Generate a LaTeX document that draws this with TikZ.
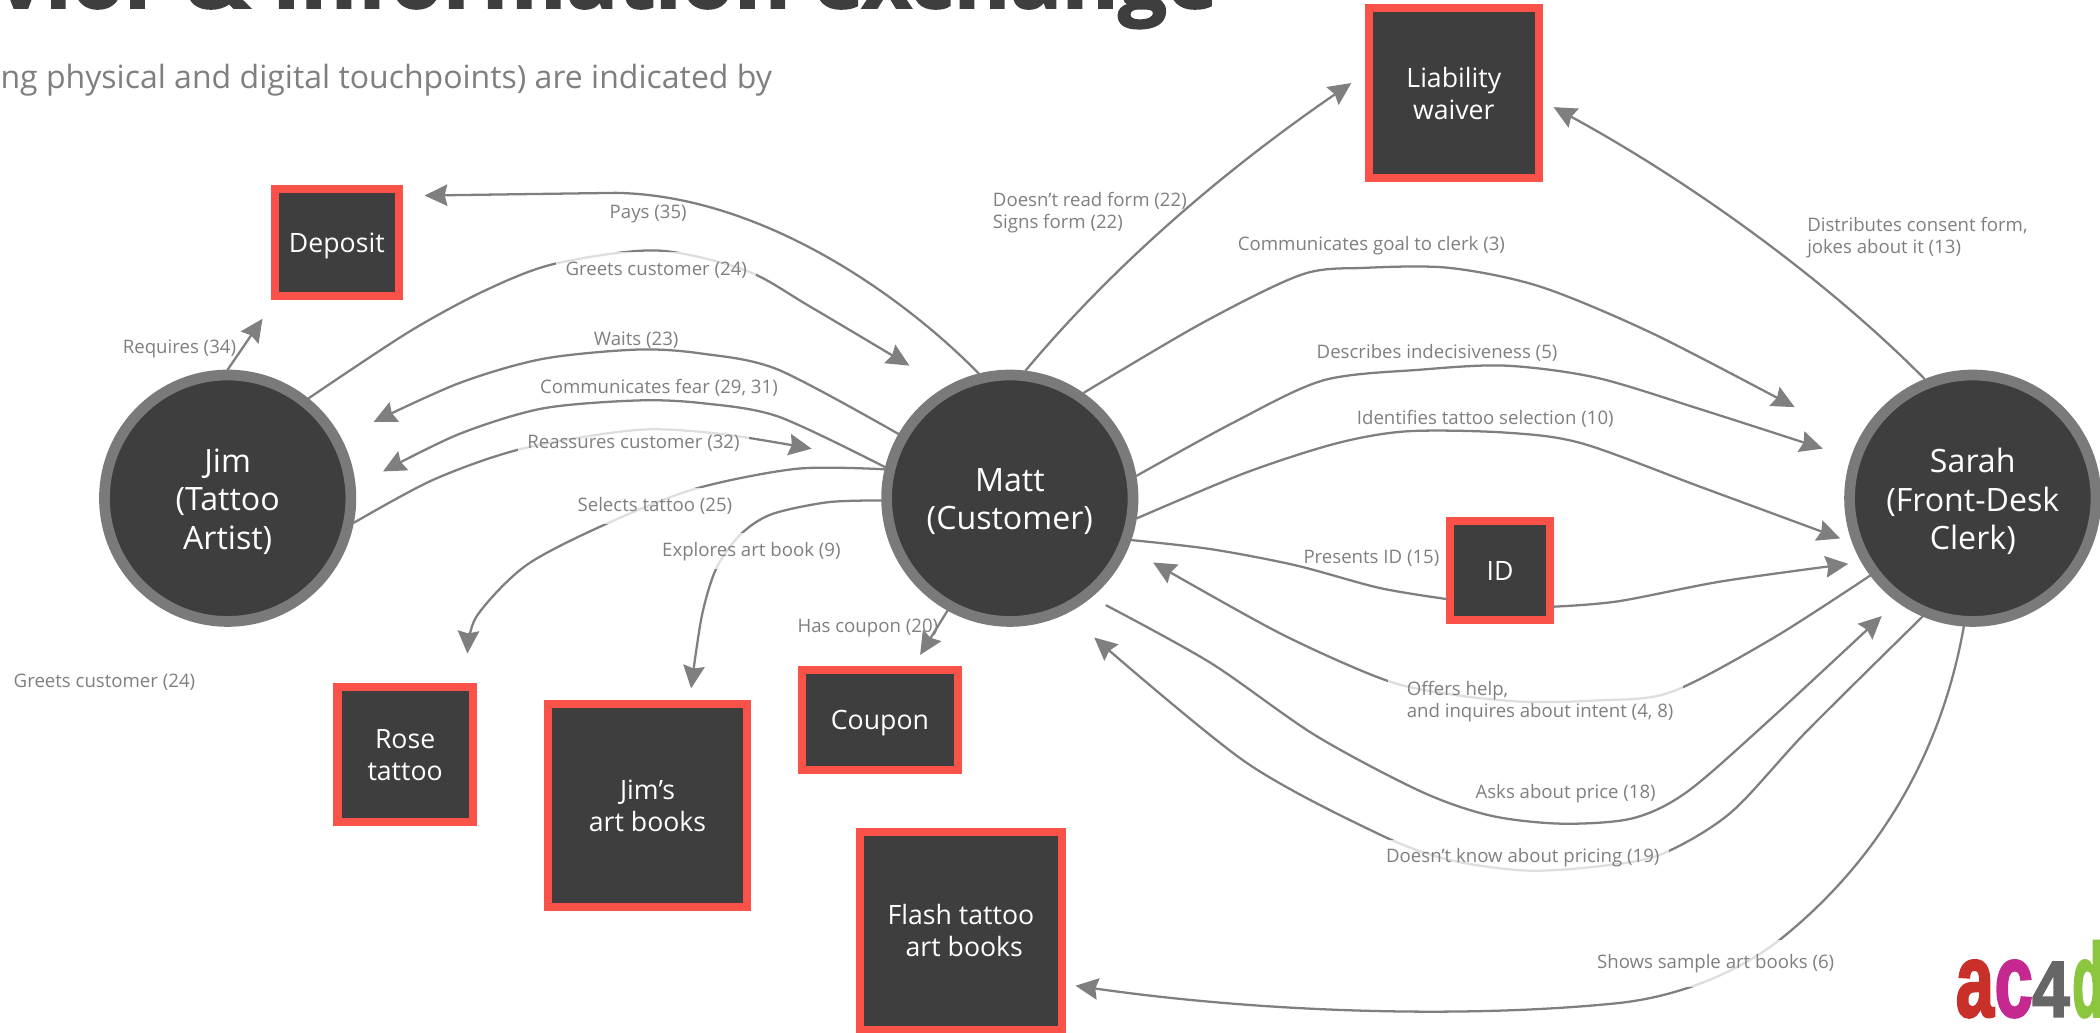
\documentclass[tikz,border=0pt]{standalone}
\usepackage{fontspec}
\setmainfont{Open Sans}
\newfontfamily\titlefont[BoldFeatures={FakeBold=2.2}]{Open Sans}
\newfontfamily\logofont[BoldFeatures={FakeBold=2.5}]{Liberation Sans}
\usetikzlibrary{arrows.meta}
\definecolor{darkbox}{HTML}{3E3E3E}
\definecolor{rim}{HTML}{7A7A7A}
\definecolor{redrim}{HTML}{FA5249}
\definecolor{conncol}{HTML}{7F7F7F}
\definecolor{labcol}{HTML}{7F7F7F}
\definecolor{logored}{HTML}{C9302A}
\definecolor{logomag}{HTML}{C5298F}
\definecolor{logogrey}{HTML}{666666}
\definecolor{logogreen}{HTML}{8CC63F}
\tikzset{
  actor/.style={circle,draw=rim,fill=darkbox,line width=4pt,minimum size=92pt,inner sep=0pt},
  actorlabel/.style={text=white,align=center,font=\fontsize{12}{14.4}\selectfont,inner sep=0pt,yshift=-1.3pt},
  thing/.style={rectangle,draw=redrim,fill=darkbox,line width=3pt,inner sep=0pt,text=white,align=center,font=\fontsize{9.95}{12}\selectfont},
  conn/.style={draw=conncol,line width=0.85pt,line cap=round,line join=round},
  arrowed/.style={conn,-{Stealth[length=8.5pt,width=8pt,inset=1pt]}},
  lab/.style={text=labcol,font=\fontsize{6.95}{8.3}\selectfont,inner sep=0pt,yshift=-0.8pt},
  labfill/.style={lab,fill=white,fill opacity=0.75,text opacity=1,inner xsep=3.5pt,minimum height=13.5pt},
  logoletter/.style={anchor=base west,inner sep=0pt,font=\logofont\bfseries\fontsize{39}{39}\selectfont,transform shape},
  smoothed/.style={smooth,tension=0.5}
}
\begin{document}
\begin{tikzpicture}[x=0.5pt,y=-0.5pt]
\useasboundingbox (0,0) rectangle (1568,771.3);
\clip (0,0) rectangle (1568,771.3);
% heading
\node[anchor=base west,inner sep=0pt,text=darkbox,font=\titlefont\bfseries\fontsize{32}{34}\selectfont] (heading) at (-3,6) {vior \& Information exchange};
\node[anchor=base west,inner sep=0pt,text=labcol,font=\fontsize{11.95}{15}\selectfont] (subheading) at (0,66) {ng physical and digital touchpoints) are indicated by};
% actors
\node[actor] (jim) at (170,372) {};
\node[actorlabel] (jimtext) at (jim.center) {Jim\\(Tattoo\\Artist)};
\node[actor] (matt) at (754,372) {};
\node[actorlabel] (matttext) at (matt.center) {Matt\\(Customer)};
\node[actor] (sarah) at (1473,372) {};
\node[actorlabel] (sarahtext) at (sarah.center) {Sarah\\(Front-Desk\\Clerk)};
% things
\node[thing,minimum width=46.5pt,minimum height=40pt,text depth=0pt] (deposit) at (251.5,181) {Deposit};
\node[thing,minimum width=63.5pt,minimum height=63.5pt] (waiver) at (1085.5,69.5) {Liability\\waiver};
\node[thing,minimum width=50.5pt,minimum height=50.5pt] (rose) at (302.5,563.5) {Rose\\tattoo};
\node[thing,minimum width=74.5pt,minimum height=75.5pt] (jimbooks) at (483.5,601.5) {Jim’s\\art books};
\node[thing,minimum width=58pt,minimum height=37.5pt,text depth=0pt] (coupon) at (657,537.5) {Coupon};
\node[thing,minimum width=75.5pt,minimum height=74pt] (flash) at (717.5,695) {Flash tattoo\\\hspace*{2.5pt}art books};
\node[thing,minimum width=37pt,minimum height=37pt] (idcard) at (1120,426) {ID};
% free ends
\coordinate (tRequires) at (196,238);
\coordinate (tPays) at (317,146);
\coordinate (bPays) at (460,144);
\coordinate (tGreets) at (679,273);
\coordinate (tWaits) at (279,315);
\coordinate (tFear) at (286,352);
\coordinate (tReassure) at (606,335);
\coordinate (tSelects) at (349,488);
\coordinate (tExplores) at (516,514);
\coordinate (tCoupon) at (687,489);
\coordinate (tRead) at (1009,62);
\coordinate (tGoal) at (1340,304);
\coordinate (tDescribes) at (1361,335);
\coordinate (tIdentifies) at (1374,402);
\coordinate (tPresents) at (1380,421);
\coordinate (tOffers) at (861,420);
\coordinate (sPrice) at (826,452);
\coordinate (tPrice) at (1405,460);
\coordinate (tPricing) at (817,476);
\coordinate (bShowsA) at (1331,700);
\coordinate (bShowsB) at (1208,749);
\coordinate (tShows) at (803,736);
\coordinate (tDistributes) at (1160,80);
% connectors
\draw[arrowed] (jim.90) -- (tRequires);
\draw[arrowed] (matt.104) .. controls (675,222) and (570,146) .. (bPays) -- (tPays);
\draw[arrowed] plot[smoothed] coordinates {(jim.51) (305,248) (362,217) (414,197) (490,187) (557,202) (605,229) (tGreets)};
\draw[arrowed] plot[smoothed] coordinates {(matt.150) (581,276) (524,264) (476,261) (405,268) (343,286) (tWaits)};
\draw[arrowed] plot[smoothed] coordinates {(matt.166) (581,311) (524,301) (476,299) (405,305) (343,324) (tFear)};
\draw[arrowed] plot[smoothed] coordinates {(jim.-11) (324,358) (390,335) (476,321) (538,324) (tReassure)};
\draw[arrowed] plot[smoothed] coordinates {(matt.167) (595,350) (519,365) (453,391) (393,422) (356,460) (tSelects)};
\draw[arrowed] plot[smoothed] coordinates {(matt.181) (618,375) (576,384) (553,399) (535,424) (524,460) (tExplores)};
\draw[arrowed] (matt.241) -- (tCoupon);
\draw[arrowed] (matt.83) .. controls (830,200) and (910,130) .. (tRead);
\draw[arrowed] plot[smoothed] coordinates {(matt.55) (898,241) (972,205) (1019,200) (1082,200) (1150,214) (1234,249) (tGoal)};
\draw[arrowed] plot[smoothed] coordinates {(matt.10) (920,316) (988,284) (1061,276) (1124,273) (1192,282) (1271,306) (tDescribes)};
\draw[arrowed] plot[smoothed] coordinates {(matt.-9) (930,353) (998,331) (1051,322) (1124,323) (1181,331) (1271,364) (tIdentifies)};
\draw[conn] plot[smoothed] coordinates {(matt.-19) (904,410) (967,422) (1030,439) (idcard.208)};
\draw[arrowed] plot[smoothed] coordinates {(idcard.-34) (1208,449) (1286,434) (tPresents)};
\draw[arrowed] plot[smoothed] coordinates {(sarah.217) (1323,477) (1247,517) (1192,523) (1139,524) (1087,519) (1035,508) (956,473) (tOffers)};
\draw[arrowed] plot[smoothed] coordinates {(sPrice) (904,495) (982,549) (1061,591) (1113,609) (1166,615) (1219,611) (1260,591) (1323,536) (tPrice)};
\draw[arrowed] plot[smoothed] coordinates {(sarah.247) (1349,546) (1292,607) (1240,638) (1192,647) (1139,650) (1082,642) (1030,623) (930,569) (tPricing)};
\draw[arrowed] (sarah.266) .. controls (1450,560) and (1405,640) .. (bShowsA) .. controls (1300,725) and (1255,744) .. (bShowsB) .. controls (1100,760) and (950,757) .. (tShows);
\draw[arrowed] (sarah.112) .. controls (1370,215) and (1270,140) .. (tDistributes);
% labels
\node[lab] (lRequires) at (134,259) {Requires (34)};
\node[lab] (lPays) at (484,158) {Pays (35)};
\node[labfill] (lGreets) at (490,200) {Greets customer (24)};
\node[lab] (lWaits) at (475,252) {Waits (23)};
\node[lab] (lFear) at (492,288) {Communicates fear (29, 31)};
\node[labfill] (lReassure) at (473,329) {Reassures customer (32)};
\node[labfill] (lSelects) at (489,376.5) {Selects tattoo (25)};
\node[labfill] (lExplores) at (561,410) {Explores art book (9)};
\node[lab] (lCoupon) at (648,467) {Has coupon (20)};
\node[lab] (lOther) at (78,508) {Greets customer (24)};
\node[lab,anchor=west,align=left] (lRead) at (741,157) {Doesn’t read form (22)\\Signs form (22)};
\node[lab] (lGoal) at (1024,182) {Communicates goal to clerk (3)};
\node[lab] (lDescribes) at (1073,262) {Describes indecisiveness (5)};
\node[lab] (lIdentifies) at (1109,311) {Identifies tattoo selection (10)};
\node[lab] (lPresents) at (1024,415) {Presents ID (15)};
\node[lab,anchor=west,align=left] (lDistributes) at (1349,176) {Distributes consent form,\\jokes about it (13)};
\node[labfill,anchor=west,align=left,inner ysep=2pt] (lOffers) at (1036,522) {\hspace*{3.5pt}Offers help,\\\hspace*{3.5pt}and inquires about intent (4, 8)};
\node[lab] (lPrice) at (1169,591) {Asks about price (18)};
\node[labfill] (lPricing) at (1137,639) {Doesn’t know about pricing (19)};
\node[labfill,minimum height=17.5pt] (lShows) at (1281,718) {Shows sample art books (6)};
% logo
\node[logoletter,xscale=0.66,text=logored] (logoa) at (1460,759) {a};
\node[logoletter,xscale=0.66,text=logomag] (logoc) at (1489,759) {c};
\node[logoletter,xscale=0.85,text=logogrey,font=\logofont\bfseries\fontsize{29.5}{30}\selectfont] (logofour) at (1517,759) {4};
\node[logoletter,xscale=0.5,text=logogreen] (logod) at (1547,759) {d};
\end{tikzpicture}
\end{document}
